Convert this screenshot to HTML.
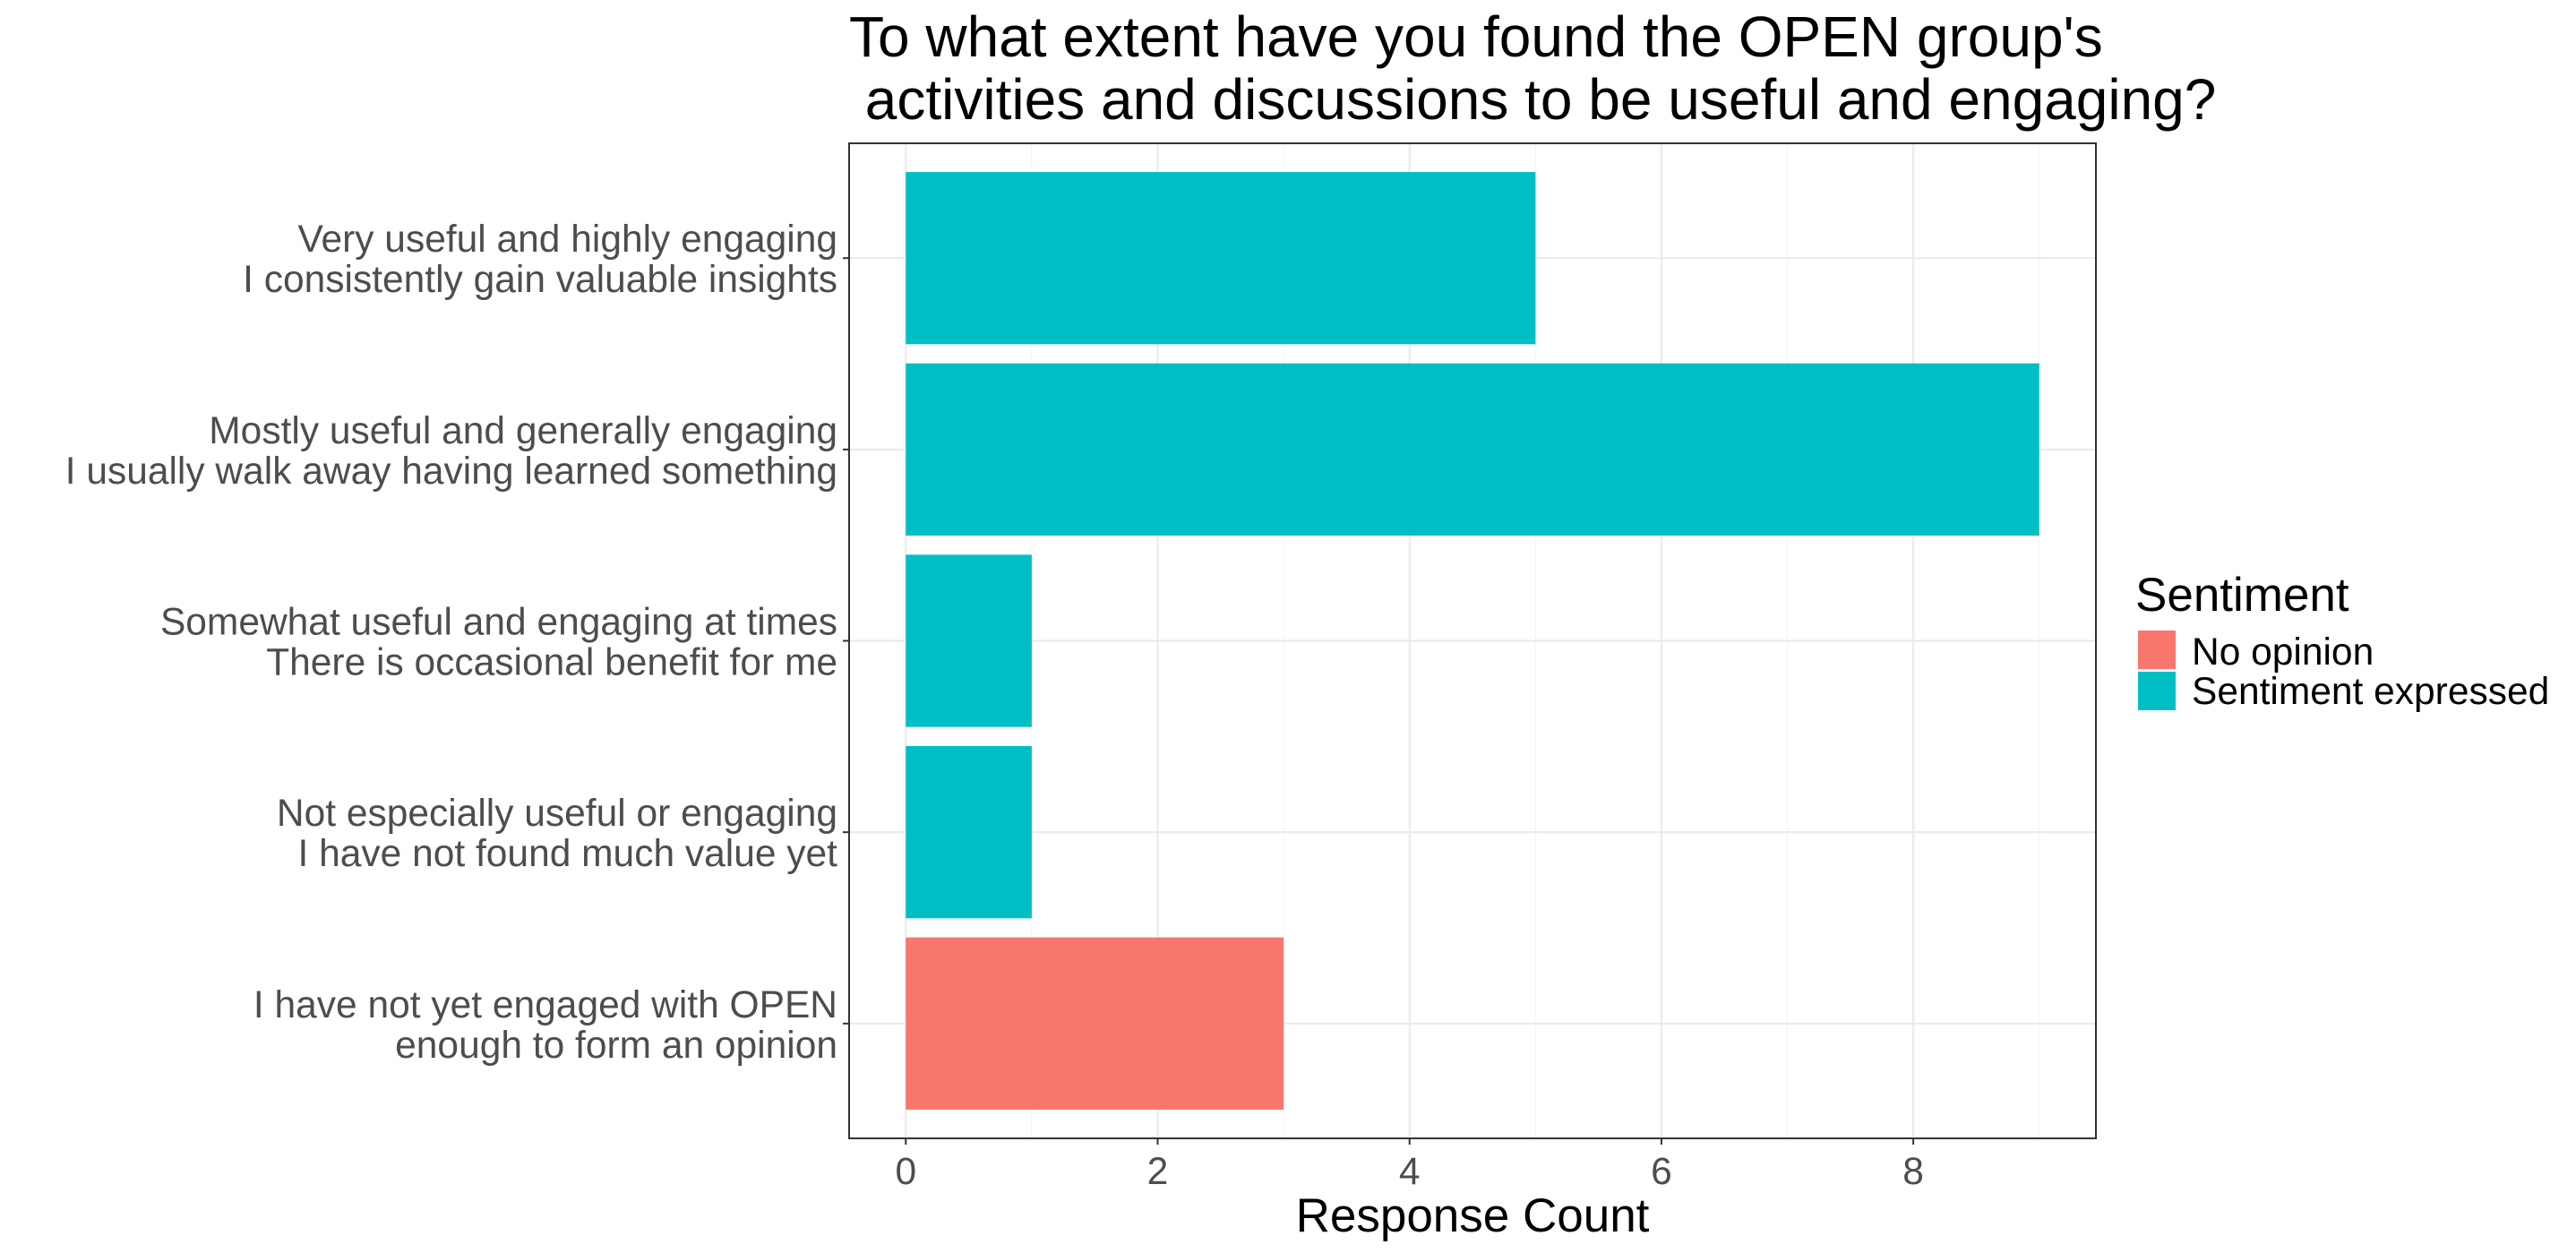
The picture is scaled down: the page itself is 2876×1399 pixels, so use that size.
<!DOCTYPE html>
<html><head><meta charset="utf-8"><style>
body{margin:0;background:#fff}
svg{display:block;font-family:"Liberation Sans",Arial,sans-serif}
</style></head><body>
<svg id="chart" width="2876" height="1399" viewBox="0 0 2876 1399" xmlns="http://www.w3.org/2000/svg">
<rect width="2876" height="1399" fill="#fff"/>
<text font-size="64" fill="#000"><tspan x="948" y="63">To what extent have you found the OPEN group's</tspan><tspan x="948" y="133" xml:space="preserve"> activities and discussions to be useful and engaging?</tspan></text>
<g id="grid"></g>
<g id="bars"></g>
<rect x="948" y="160" width="1392" height="1111" fill="none" stroke="#333" stroke-width="2"/>
<g id="axes"></g>
<text x="1644" y="1375" font-size="53" text-anchor="middle" fill="#000">Response Count</text>
<g>
<text x="2384" y="682" font-size="53" fill="#000">Sentiment</text>
<rect x="2387" y="704" width="42" height="43" fill="#F8766D"/>
<text x="2447" y="742" font-size="42.5" fill="#000">No opinion</text>
<rect x="2387" y="750" width="42" height="43" fill="#00BFC4"/>
<text x="2447" y="786" font-size="42.5" fill="#000">Sentiment expressed</text>
</g>
</svg>
<script>
const categoriesLine1 = ["Very useful and highly engaging","Mostly useful and generally engaging","Somewhat useful and engaging at times","Not especially useful or engaging","I have not yet engaged with OPEN"];
const categoriesLine2 = ["I consistently gain valuable insights","I usually walk away having learned something","There is occasional benefit for me","I have not found much value yet","enough to form an opinion"];
const counts = [5, 9, 1, 1, 3];
const sentiment = ["Sentiment expressed","Sentiment expressed","Sentiment expressed","Sentiment expressed","No opinion"];
const xTicks = [0, 2, 4, 6, 8];
const colors = {"No opinion":"#F8766D","Sentiment expressed":"#00BFC4"};

const NS = "http://www.w3.org/2000/svg";
const px0 = 948, px1 = 2340, py0 = 160, py1 = 1271;
const xmin = -0.45, xmax = 9.45;
const n = categoriesLine1.length;
const xs = v => px0 + (v - xmin) / (xmax - xmin) * (px1 - px0);
const band = (py1 - py0) / (n + 0.2);
const ys = i => py0 + (0.6 + i) * band;
function mk(tag, attrs, parent) {
  const e = document.createElementNS(NS, tag);
  for (const k in attrs) e.setAttribute(k, attrs[k]);
  parent.appendChild(e);
  return e;
}
const grid = document.getElementById('grid');
for (let v = -1; v <= 10; v++) {
  const x = xs(v);
  if (x < px0 || x > px1) continue;
  const ln = mk('line', {x1: x, x2: x, y1: py0, y2: py1, stroke: v % 2 === 0 ? '#ebebeb' : '#f4f4f4', 'stroke-width': v % 2 === 0 ? 2.2 : 1.2}, grid);
  
  
}
for (let i = 0; i < n; i++) {
  const ln = mk('line', {x1: px0, x2: px1, y1: ys(i), y2: ys(i), stroke: '#ebebeb', 'stroke-width': 2.2}, grid);
  
  
}
const bars = document.getElementById('bars');
for (let i = 0; i < n; i++) {
  const h = band * 0.9;
  const r = mk('rect', {x: xs(0), y: ys(i) - h / 2, width: xs(counts[i]) - xs(0), height: h, fill: colors[sentiment[i]]}, bars);
  
  
}
const axes = document.getElementById('axes');
for (let i = 0; i < n; i++) {
  const y = ys(i);
  const tk = mk('line', {x1: px0 - 7, x2: px0, y1: y, y2: y, stroke: '#333', 'stroke-width': 2}, axes);
  
  
  const t = mk('text', {x: 935, 'font-size': 42.5, fill: '#4d4d4d', 'text-anchor': 'end'}, axes);
  
  
  const a = mk('tspan', {x: 935, y: y - 7}, t); a.textContent = categoriesLine1[i];
  const b = mk('tspan', {x: 935, y: y + 38}, t); b.textContent = categoriesLine2[i];
}
for (const v of xTicks) {
  const x = xs(v);
  const tk = mk('line', {x1: x, x2: x, y1: py1, y2: py1 + 7, stroke: '#333', 'stroke-width': 2}, axes);
  
  
  const t = mk('text', {x: x, y: 1322, 'font-size': 42.5, fill: '#4d4d4d', 'text-anchor': 'middle'}, axes);
  
  
  t.textContent = v;
}
</script>
</body></html>
